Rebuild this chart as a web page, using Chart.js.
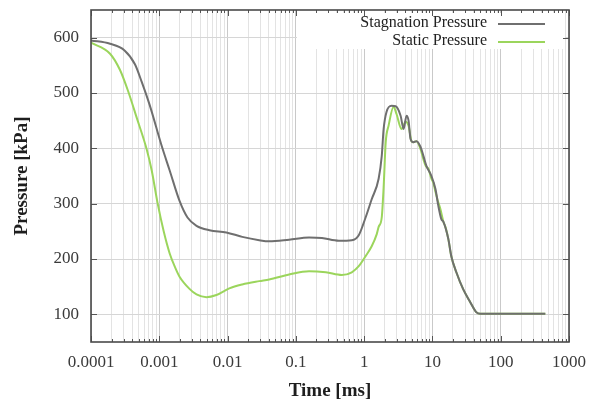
<!DOCTYPE html>
<html>
<head>
<meta charset="utf-8">
<script src="https://cdn.jsdelivr.net/npm/chart.js@4/dist/chart.umd.min.js"></script>
<style>
  html, body { margin: 0; padding: 0; background: #fff; }
  canvas { display: block; }
</style>
</head>
<body>
<canvas id="chart" width="595" height="403"></canvas>
<script>
// time in ms, pressure in kPa
const stagTime = [0.0001, 0.00019, 0.00031, 0.00044, 0.000553, 0.000724, 0.00108, 0.00142, 0.00198, 0.00259,
  0.00351, 0.00543, 0.0096, 0.0164, 0.0291, 0.0407, 0.0796, 0.156, 0.241, 0.426, 0.659, 0.834, 1.05, 1.29,
  1.63, 1.81, 1.93, 2.13, 2.52, 2.89, 3.42, 3.78, 4.18, 4.47, 4.78, 5.28, 5.84, 6.68, 7.39, 8.18, 9.67,
  11.1, 12.2, 13.5, 14.5, 17.1, 18.9, 22.4, 28.3, 35.8, 43.8, 50, 59, 100, 450];
const stagP = [595, 589, 577, 552, 520, 478, 405, 360, 305, 275,
  260, 252, 248, 240, 234, 232, 235, 239, 238, 233, 234, 243, 275, 308,
  345, 386, 435, 466, 477, 476, 459, 435, 459, 450, 417, 411, 413, 403, 386, 368, 350,
  326, 296, 272, 267, 236, 205, 176, 145, 122, 104, 101, 101, 101, 101];

const staticTime = [0.0001, 0.00019, 0.000265, 0.000346, 0.000468, 0.000655, 0.000775, 0.000948, 0.00116,
  0.00142, 0.00173, 0.00198, 0.00277, 0.00351, 0.00491, 0.00687, 0.0106, 0.0164, 0.0291, 0.0407, 0.0796,
  0.156, 0.275, 0.471, 0.659, 0.834, 1.05, 1.29, 1.53, 1.63, 1.81, 1.93, 2.07, 2.28, 2.70, 2.98, 3.53,
  4.04, 4.47, 4.94, 5.28, 5.84, 6.68, 7.39, 8.0, 8.75, 9.67, 10.3, 11.1, 12.0, 13.1, 14.5, 15.5, 17.1,
  18.9, 22.4, 28.3, 35.8, 43.8, 50, 59, 100, 450];
const staticP = [591, 571, 542, 505, 455, 398, 360, 300, 250,
  210, 183, 168, 146, 136, 131, 135, 147, 154, 160, 163, 172,
  178, 176, 171, 176, 187, 205, 223, 245, 258, 275, 330, 411, 441, 475, 462, 435,
  448, 441, 413, 411, 413, 399, 380, 368, 363, 345, 338, 321, 305, 290, 267, 258, 236,
  205, 176, 145, 122, 104, 101, 101, 101, 101];

const xMajorTicks = [0.0001, 0.001, 0.01, 0.1, 1, 10, 100, 1000];
const yTicks = [100, 200, 300, 400, 500, 600];
const seriesNames = ['Stagnation Pressure', 'Static Pressure'];
const seriesColors = ['#6f6f6f', '#9bd55c'];

const SERIF = '"Liberation Serif", "DejaVu Serif", serif';

function isDecade(v) {
  const l = Math.log10(v);
  return Math.abs(l - Math.round(l)) < 1e-9;
}

function toPoints(xs, ys) {
  return xs.map((x, i) => ({ x: x, y: ys[i] }));
}

const framePlugin = {
  id: 'frame',
  beforeDatasetsDraw(chart) {
    // opaque key box, like gnuplot's
    const { ctx, chartArea: a } = chart;
    ctx.save();
    ctx.fillStyle = '#fff';
    ctx.fillRect(a.right - 272, a.top + 3, 268, 36);
    ctx.restore();
  },
  afterDraw(chart) {
    const { ctx, chartArea: a } = chart;
    const xs = chart.scales.x, ys = chart.scales.y;
    ctx.save();
    ctx.strokeStyle = '#555';
    ctx.lineWidth = 1;
    ctx.beginPath();
    xs.ticks.forEach(t => {
      const px = Math.round(xs.getPixelForValue(t.value)) + 0.5;
      const len = isDecade(t.value) ? 6 : 3;
      ctx.moveTo(px, a.bottom); ctx.lineTo(px, a.bottom - len);
      ctx.moveTo(px, a.top); ctx.lineTo(px, a.top + len);
    });
    ys.ticks.forEach(t => {
      const py = Math.round(ys.getPixelForValue(t.value)) + 0.5;
      ctx.moveTo(a.left, py); ctx.lineTo(a.left + 6, py);
      ctx.moveTo(a.right, py); ctx.lineTo(a.right - 6, py);
    });
    ctx.stroke();

    ctx.strokeStyle = '#4a4a4a';
    ctx.lineWidth = 1.6;
    ctx.strokeRect(a.left, a.top, a.right - a.left, a.bottom - a.top);

    // key
    ctx.font = '16px ' + SERIF;
    ctx.textAlign = 'right';
    ctx.textBaseline = 'middle';
    chart.data.datasets.forEach((ds, i) => {
      const y = a.top + 13 + i * 18;
      ctx.fillStyle = '#222';
      ctx.fillText(ds.label, a.right - 82, y);
      ctx.strokeStyle = ds.borderColor;
      ctx.lineWidth = 2;
      ctx.beginPath();
      ctx.moveTo(a.right - 71, y + 1);
      ctx.lineTo(a.right - 24, y + 1);
      ctx.stroke();
    });
    ctx.restore();
  }
};

new Chart(document.getElementById('chart'), {
  type: 'line',
  data: {
    datasets: [
      {
        label: seriesNames[0],
        data: toPoints(stagTime, stagP),
        borderColor: seriesColors[0],
        borderWidth: 2,
        pointRadius: 0,
        cubicInterpolationMode: 'monotone'
      },
      {
        label: seriesNames[1],
        data: toPoints(staticTime, staticP),
        borderColor: seriesColors[1],
        borderWidth: 2,
        pointRadius: 0,
        cubicInterpolationMode: 'monotone'
      }
    ]
  },
  options: {
    responsive: false,
    animation: false,
    devicePixelRatio: 1,
    layout: { padding: { top: 10, right: 26, left: 0, bottom: 0 } },
    plugins: { legend: { display: false }, tooltip: { enabled: false } },
    scales: {
      x: {
        type: 'logarithmic',
        min: 0.0001,
        max: 1000,
        afterBuildTicks(scale) {
          const ticks = [];
          xMajorTicks.forEach((m, i) => {
            ticks.push({ value: m, major: true });
            if (i < xMajorTicks.length - 1) {
              for (let k = 2; k <= 9; k++) ticks.push({ value: m * k, major: false });
            }
          });
          scale.ticks = ticks;
        },
        afterFit(scale) {
          scale.height = 61;
          scale.paddingLeft = 0;
          scale.paddingRight = 0;
        },
        grid: {
          drawTicks: false,
          color: c => (c.tick && isDecade(c.tick.value)) ? '#c9c9c9' : '#e3e3e3',
          lineWidth: 1
        },
        border: { display: false },
        ticks: {
          autoSkip: false,
          maxRotation: 0,
          padding: 10,
          color: '#3a3a3a',
          font: { family: SERIF, size: 17 },
          callback: v => isDecade(v) ? String(Number(v.toPrecision(6))) : ''
        },
        title: {
          display: true,
          text: 'Time [ms]',
          color: '#1e1e1e',
          font: { family: SERIF, size: 19, weight: 'bold' },
          padding: { top: 0, bottom: 1 }
        }
      },
      y: {
        min: 50,
        max: 650,
        afterBuildTicks(scale) {
          scale.ticks = yTicks.map(v => ({ value: v }));
        },
        afterFit(scale) {
          scale.width = 91;
          scale.paddingTop = 0;
          scale.paddingBottom = 0;
        },
        grid: { drawTicks: false, color: '#d6d6d6', lineWidth: 1 },
        border: { display: false },
        ticks: {
          padding: 12,
          color: '#3a3a3a',
          font: { family: SERIF, size: 17 }
        },
        title: {
          display: true,
          text: 'Pressure [kPa]',
          color: '#1e1e1e',
          font: { family: SERIF, size: 19, weight: 'bold' },
          padding: { top: 11, bottom: 0 }
        }
      }
    }
  },
  plugins: [framePlugin]
});
</script>
</body>
</html>
